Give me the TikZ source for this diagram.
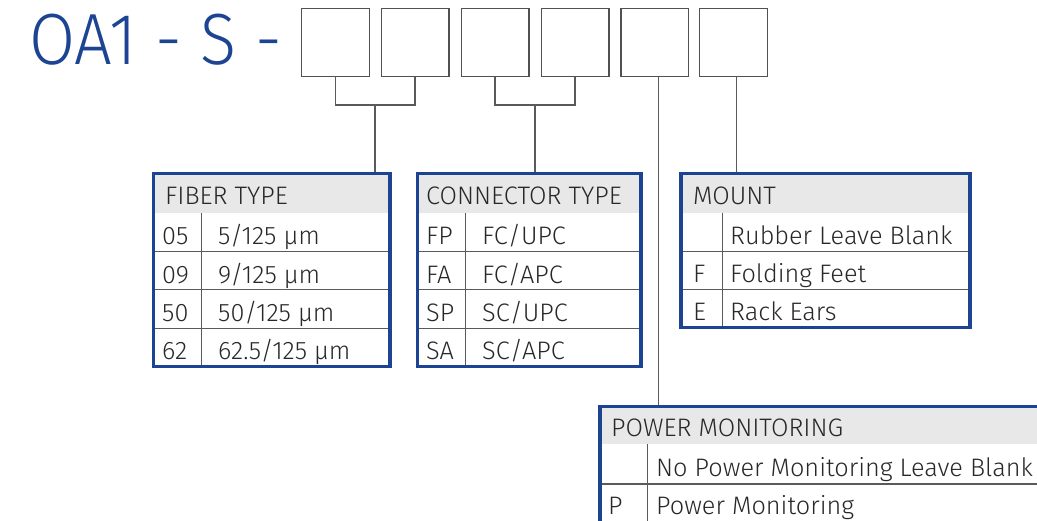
\documentclass[tikz,border=0pt]{standalone}
\usepackage{fontspec}
\setmainfont{Fira Sans Light}
\newfontfamily\titlefont{Fira Sans Light}[FakeStretch=0.92]
\definecolor{navy}{RGB}{28,68,146}
\definecolor{hdrgray}{RGB}{232,232,232}
\definecolor{txtgray}{RGB}{40,40,40}
\definecolor{linegray}{RGB}{90,90,90}
\tikzset{
  slot/.style={draw=linegray!90!black, line width=1.3bp, minimum width=67.6bp, minimum height=68.4bp, inner sep=0pt},
  tframe/.style={draw=navy, line width=3.2bp, inner sep=0pt},
  hdr/.style={fill=hdrgray, draw=none},
  rule/.style={draw=linegray, line width=1.1bp},
  link/.style={draw=linegray, line width=1.3bp},
  cell/.style={anchor=base west, inner sep=0pt, text=txtgray, font=\fontsize{25.3bp}{28bp}\selectfont},
}
\begin{document}
\begin{tikzpicture}[x=1bp,y=-1bp]
\useasboundingbox (0,0) rectangle (1037,521);
\clip (0,0) rectangle (1037,521);

% title
\node[anchor=base west, inner sep=0pt, text=navy, font=\titlefont\fontsize{72.5bp}{80bp}\selectfont] (title) at (29,65) {OA1 - S -};

% slots
\node[slot] (b1) at (335.5,42.5) {};
\node[slot] (b2) at (415.1,42.5) {};
\node[slot] (b3) at (495.1,42.5) {};
\node[slot] (b4) at (575.1,42.5) {};
\node[slot] (b5) at (654.8,42.5) {};
\node[slot] (b6) at (733.5,42.5) {};

% ---------- FIBER TYPE table ----------
\path[hdr] (153.3,173.3) rectangle (390,212.7);
\draw[rule] (153.3,251.2) -- (390,251.2) (153.3,289.7) -- (390,289.7) (153.3,328.2) -- (390,328.2);
\draw[rule] (201.7,212.7) -- (201.7,366.5);
\node[tframe, minimum width=236.7bp, minimum height=193.2bp] (fiber) at (271.65,269.9) {};
\node[cell] (fh) at (165,204.5) {FIBER TYPE};
\node[cell] (f1c) at (162,245) {05};
\node[cell] (f1d) at (218,245) {5/125 µm};
\node[cell] (f2c) at (162,283.5) {09};
\node[cell] (f2d) at (218,283.5) {9/125 µm};
\node[cell] (f3c) at (162,322) {50};
\node[cell] (f3d) at (218,322) {50/125 µm};
\node[cell] (f4c) at (162,360) {62};
\node[cell] (f4d) at (218,360) {62.5/125 µm};

% ---------- CONNECTOR TYPE table ----------
\path[hdr] (417.6,173.3) rectangle (641,212.7);
\draw[rule] (417.6,251.2) -- (641,251.2) (417.6,289.7) -- (641,289.7) (417.6,328.2) -- (641,328.2);
\draw[rule] (465.7,212.7) -- (465.7,366.5);
\node[tframe, minimum width=223.4bp, minimum height=193.2bp] (conn) at (529.3,269.9) {};
\node[cell] (ch) at (426,204.5) {CONNECTOR TYPE};
\node[cell] (c1c) at (426,245) {FP};
\node[cell] (c1d) at (482,245) {FC/UPC};
\node[cell] (c2c) at (426,283.5) {FA};
\node[cell] (c2d) at (482,283.5) {FC/APC};
\node[cell] (c3c) at (426,322) {SP};
\node[cell] (c3d) at (482,322) {SC/UPC};
\node[cell] (c4c) at (426,360) {SA};
\node[cell] (c4d) at (482,360) {SC/APC};

% ---------- MOUNT table ----------
\path[hdr] (681,173.3) rectangle (970,212.7);
\draw[rule] (681,251.2) -- (970,251.2) (681,289.7) -- (970,289.7);
\draw[rule] (722.7,212.7) -- (722.7,327.8);
\node[tframe, minimum width=289bp, minimum height=154.5bp] (mount) at (825.5,250.55) {};
\node[cell] (mh) at (693,205) {MOUNT};
\node[cell] (m1d) at (730,244.5) {Rubber Leave Blank};
\node[cell] (m2c) at (693,282.5) {F};
\node[cell] (m2d) at (730,282.5) {Folding Feet};
\node[cell] (m3c) at (693,320.8) {E};
\node[cell] (m3d) at (730,320.8) {Rack Ears};

% ---------- POWER MONITORING table ----------
\path[hdr] (600,406.7) rectangle (1060,444.3);
\draw[rule] (600,484) -- (1060,484);
\draw[rule] (647.7,444.3) -- (647.7,560);
\node[tframe, minimum width=460bp, minimum height=153.3bp] (power) at (830,483.35) {};
\node[cell] (ph) at (611,436.7) {POWER MONITORING};
\node[cell] (p1d) at (656,476.7) {No Power Monitoring Leave Blank};
\node[cell] (p2c) at (608,514) {P};
\node[cell] (p2d) at (656,514) {Power Monitoring};

% ---------- connectors ----------
\coordinate (j1) at (375,105);
\coordinate (j2) at (535,105);
\draw[link] (b1.south) -- (b1.south |- j1) -| (b2.south);
\draw[link] (j1) -- (j1 |- fiber.north);
\draw[link] (b3.south) -- (b3.south |- j2) -| (b4.south);
\draw[link] (j2) -- (j2 |- conn.north);
\draw[link] ([xshift=3.5bp]b5.south) -- ([xshift=3.5bp]b5.south |- power.north);
\draw[link] ([xshift=3.2bp]b6.south) -- ([xshift=3.2bp]b6.south |- mount.north);
\end{tikzpicture}
\end{document}
